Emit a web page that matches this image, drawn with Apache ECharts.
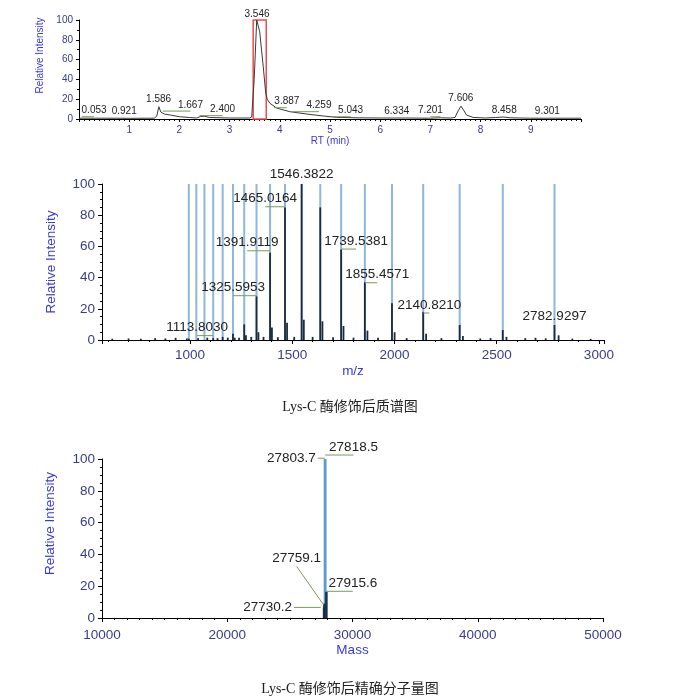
<!DOCTYPE html>
<html>
<head>
<meta charset="utf-8">
<script src="https://cdn.jsdelivr.net/npm/echarts@6/dist/echarts.min.js"></script>
<style>
  html, body { margin: 0; padding: 0; background: #fff; }
  #main { width: 700px; height: 700px; }
</style>
</head>
<body>
<div id="main"></div>
<script>
// ---- chromatogram (RT in min, relative intensity)
var rtTime = [0, 0.5, 1.0, 1.5, 1.55, 1.59, 1.63, 1.7, 1.82, 2.0,
  2.2, 2.34, 2.42, 2.5, 2.6, 3.0, 3.4, 3.44, 3.49, 3.54,
  3.6, 3.67, 3.72, 3.75, 3.8, 3.94, 4.2, 4.54, 4.87, 5.13,
  5.5, 6.0, 6.5, 7.0, 7.2, 7.4, 7.49, 7.55, 7.61, 7.66,
  7.72, 7.85, 8.1, 8.3, 8.45, 8.6, 9.0, 9.5, 10];
var rtIntensity = [0.8, 0.8, 0.7, 0.8, 3, 12.4, 7, 5, 4, 2.3,
  1.5, 1, 2.5, 2.8, 1.5, 1, 1, 2, 40, 100,
  88, 53, 26, 20, 16, 11, 7.4, 5, 3, 1.7,
  1.2, 1, 1, 0.8, 1.2, 1, 1.5, 8, 13, 9,
  4, 1.6, 1, 1.5, 2, 1.2, 0.8, 0.8, 0.8];
var rtPeaks = [0.053, 0.921, 1.586, 1.667, 2.400, 3.546, 3.887, 4.259, 5.043, 6.334, 7.201, 7.606, 8.458, 9.301];
var rtWindow = [3.47, 3.73];

// ---- mass spectrum (m/z, relative intensity)
var chargeStateMz = [994.5, 1031.3, 1071.0, 1113.8, 1160.1, 1210.5, 1265.5, 1325.6, 1391.9, 1465.0,
  1546.4, 1637.4, 1739.5, 1855.5, 1988.1, 2140.8, 2319.2, 2530.0, 2782.9];
var specMz = [620, 700, 760, 830, 880, 930, 985, 994.5, 1040, 1085,
  1113.8, 1135, 1160.1, 1185, 1210.5, 1219, 1240, 1265.5, 1274, 1300,
  1325.6, 1335, 1360, 1391.9, 1401, 1430, 1465.0, 1475, 1510, 1546.4,
  1557, 1600, 1637.4, 1648, 1700, 1739.5, 1751, 1800, 1855.5, 1868,
  1920, 1988.1, 2001, 2060, 2140.8, 2155, 2230, 2319.2, 2335, 2420,
  2470, 2530.0, 2548, 2640, 2690, 2740, 2782.9, 2803, 2870, 2960];
var specInt = [0.8, 1, 0.8, 1.2, 1, 1.4, 1, 0.8, 1.2, 1.5,
  1.2, 1.2, 2, 1.5, 4, 1.5, 1.5, 10, 3, 2,
  28, 5, 2, 56, 8, 1.8, 85, 11, 2, 100,
  13, 2, 85, 12, 1.8, 58, 9, 1.5, 37, 6,
  1.5, 23.5, 5, 1.2, 18, 4, 1.2, 9.6, 2.5, 1,
  1.2, 6.4, 2, 1.2, 1.4, 1.1, 9.6, 3, 0.9, 0.7];
var labelledMz = [1113.8030, 1325.5953, 1391.9119, 1465.0164, 1546.3822, 1739.5381, 1855.4571, 2140.8210, 2782.9297];

// ---- deconvoluted mass (Da, relative intensity)
var mainMass = [27803.7, 27818.5];
var mainMassInt = [100, 100];
var minorMass = [27730.2, 27759.1, 27915.6];
var minorMassInt = [7, 9, 16.5];
var labelledMass = [27818.5, 27803.7, 27759.1, 27730.2, 27915.6];

var captions = ['Lys-C 酶修饰后质谱图', 'Lys-C 酶修饰后精确分子量图'];

// ---- where the peak labels sit, in axis units: [x, y, side, leaderFromX, leaderFromY]
var rtNotes = [
  [0.30, 2.3, 'top', 0.053], [0.90, 2, 'top', null], [1.586, 14, 'top', null],
  [2.22, 8, 'top', 1.667], [2.86, 3.4, 'top', 2.400], [3.546, 100, 'top', null],
  [4.14, 11.4, 'top', 3.887], [4.78, 7.4, 'top', 4.259], [5.41, 2.3, 'top', 5.043],
  [6.33, 2, 'top', null], [7.00, 2.3, 'top', 7.201], [7.606, 15, 'top', null],
  [8.47, 3, 'top', null], [9.33, 2, 'top', null]
];
var mzNotes = [
  [1035, 2.8, 'top', 1113.8], [1211, 28.4, 'top', 1325.6], [1280, 57.2, 'top', 1391.9],
  [1368, 85.4, 'top', 1465.0], [1546.4, 101, 'top', null], [1813, 58.3, 'top', 1739.5],
  [1916, 36.7, 'top', 1855.5], [2171, 17.3, 'top', 2140.8], [2782.9, 10, 'top', null]
];
var massNotes = [
  [30080, 102.5, 'top', 27818.5], [27224, 100.5, 'left', 27790],
  [25544, 32.4, 'top', 27680, 8.4], [25328, 6.65, 'left', 27464],
  [30024, 16.8, 'top', 27915.6]
];

var SANS = 'Liberation Sans, Arial, sans-serif';
var TICK_TXT = '#3b3b8c';
var NAME_TXT = '#3a3ad6';
var LEAD = '#7d9a56';

function pairs(xs, ys) {
  return xs.map(function (x, i) { return [x, ys[i]]; });
}

function axis(gridIndex, o) {
  var a = {
    type: 'value',
    gridIndex: gridIndex,
    axisLine: { show: true, onZero: false, lineStyle: { color: '#000', width: 1 } },
    axisTick: { show: true, inside: false, length: o.tickLen || 4, lineStyle: { color: '#000' } },
    minorTick: { show: true, splitNumber: o.minor, length: 2, lineStyle: { color: '#000' } },
    splitLine: { show: false },
    axisLabel: {
      color: TICK_TXT, fontFamily: SANS, fontSize: o.fontSize, margin: o.margin,
      showMinLabel: o.showEnds, showMaxLabel: o.showEnds,
      formatter: function (v) { return String(v); }
    },
    name: o.name,
    nameLocation: 'middle',
    nameGap: o.nameGap,
    nameTextStyle: { color: NAME_TXT, fontFamily: SANS, fontSize: o.fontSize, padding: o.namePad || 0 }
  };
  ['min', 'max', 'interval', 'splitNumber'].forEach(function (k) {
    if (o[k] != null) a[k] = o[k];
  });
  return a;
}

function sticks(width, color) {
  return function (params, api) {
    var base = api.coord([api.value(0), 0]);
    var top = api.coord([api.value(0), api.value(1)]);
    return {
      type: 'rect',
      shape: { x: base[0] - width / 2, y: top[1], width: width, height: base[1] - top[1] },
      style: { fill: color }
    };
  };
}

function notes(list, texts, fontSize) {
  return function (params, api) {
    var n = list[params.dataIndex];
    var a = api.coord([n[0], n[1]]);
    var kids = [];
    if (n[3] != null) {
      var f = api.coord([n[3], n[4] != null ? n[4] : n[1]]);
      kids.push({
        type: 'line',
        shape: { x1: f[0], y1: f[1], x2: a[0], y2: a[1] },
        style: { stroke: LEAD, lineWidth: 1 }
      });
    }
    var left = n[2] === 'left';
    kids.push({
      type: 'text',
      x: left ? a[0] - 2 : a[0],
      y: left ? a[1] : a[1] - 1,
      style: {
        text: texts[params.dataIndex], fill: '#222', fontSize: fontSize, fontFamily: SANS,
        align: left ? 'right' : 'center', verticalAlign: left ? 'middle' : 'bottom'
      }
    });
    return { type: 'group', children: kids };
  };
}

function noteSeries(idx, list, texts, fontSize) {
  return {
    type: 'custom', xAxisIndex: idx, yAxisIndex: idx, silent: true, clip: false, z: 5,
    data: list.map(function (n) { return [n[0], n[1]]; }),
    encode: { x: 0, y: 1 },
    renderItem: notes(list, texts, fontSize)
  };
}

function stickSeries(idx, data, width, color, z) {
  return {
    type: 'custom', xAxisIndex: idx, yAxisIndex: idx, silent: true, z: z,
    data: data, encode: { x: 0, y: 1 },
    renderItem: sticks(width, color)
  };
}

var captionStyle = { fontFamily: 'Liberation Serif, Noto Sans CJK SC, serif', fontSize: 14, fontWeight: 'normal', color: '#222' };

var option = {
  animation: false,
  backgroundColor: '#fff',
  title: [
    { text: captions[0], left: 'center', top: 395, textStyle: captionStyle },
    { text: captions[1], left: 'center', top: 677, textStyle: captionStyle }
  ],
  grid: [
    { left: 79, top: 20, width: 502, height: 99 },
    { left: 102, top: 184, width: 502, height: 156 },
    { left: 102, top: 459, width: 501, height: 159 }
  ],
  xAxis: [
    axis(0, { min: 0, max: 10, interval: 1, minor: 10, fontSize: 10, margin: 6, tickLen: 3,
      showEnds: false, name: 'RT (min)', nameGap: 17 }),
    axis(1, { min: 570, max: 3025, splitNumber: 5, minor: 5, fontSize: 13.5, margin: 8,
      showEnds: false, name: 'm/z', nameGap: 24 }),
    axis(2, { min: 10000, max: 50000, interval: 10000, minor: 10, fontSize: 13.5, margin: 10,
      showEnds: true, name: 'Mass', nameGap: 24 })
  ],
  yAxis: [
    axis(0, { min: 0, max: 100, interval: 20, minor: 2, fontSize: 10, margin: 6, tickLen: 3,
      showEnds: true, name: 'Relative Intensity', nameGap: 33, namePad: [0, 0, 0, 28] }),
    axis(1, { min: 0, max: 100, interval: 20, minor: 4, fontSize: 13.5, margin: 7,
      showEnds: true, name: 'Relative Intensity', nameGap: 44 }),
    axis(2, { min: 0, max: 100, interval: 20, minor: 4, fontSize: 13.5, margin: 7,
      showEnds: true, name: 'Relative Intensity', nameGap: 45, namePad: [0, 0, 0, 30] })
  ],
  series: [
    {
      type: 'line', xAxisIndex: 0, yAxisIndex: 0, silent: true,
      data: pairs(rtTime, rtIntensity),
      symbol: 'none',
      lineStyle: { color: '#3a3a3a', width: 1 },
      markArea: {
        silent: true,
        itemStyle: { color: 'rgba(0,0,0,0)', borderColor: '#ee4d4d', borderWidth: 1.5 },
        data: [[{ xAxis: rtWindow[0], yAxis: 0 }, { xAxis: rtWindow[1], yAxis: 100 }]]
      }
    },
    noteSeries(0, rtNotes, rtPeaks.map(function (v) { return v.toFixed(3); }), 10),

    stickSeries(1, chargeStateMz.map(function (v) { return [v, 100]; }), 2, '#8fb6dc', 2),
    stickSeries(1, pairs(specMz, specInt), 1.8, '#1b2b3d', 3),
    noteSeries(1, mzNotes, labelledMz.map(function (v) { return v.toFixed(4); }), 13.5),

    stickSeries(2, pairs(mainMass, mainMassInt), 2.5, '#5b9bd5', 2),
    stickSeries(2, pairs(minorMass, minorMassInt), 2.5, '#1b2f4a', 3),
    noteSeries(2, massNotes, labelledMass.map(function (v) { return v.toFixed(1); }), 13.5)
  ]
};

var chart = echarts.init(document.getElementById('main'), null, { renderer: 'canvas' });
chart.setOption(option);
</script>
</body>
</html>
